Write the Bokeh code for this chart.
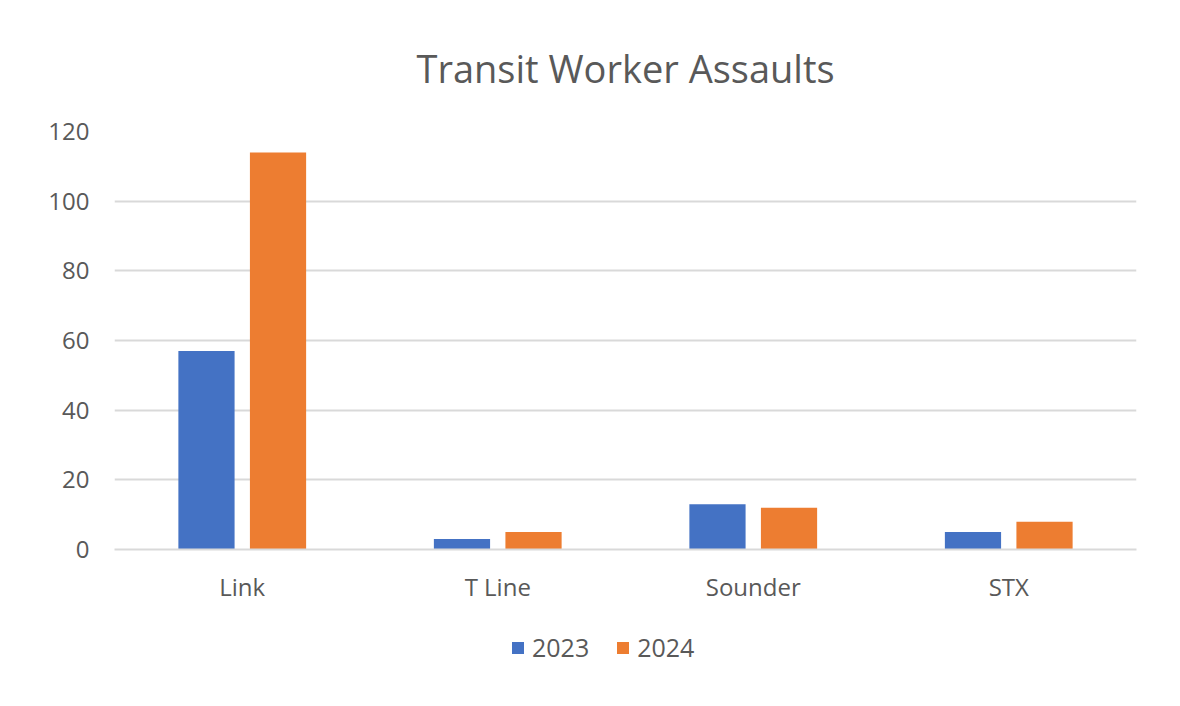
from bokeh.plotting import figure
from bokeh.layouts import column
from bokeh.models import ColumnDataSource, FactorRange, Legend, LegendItem, Range1d
from bokeh.transform import dodge
from bokeh.embed import file_html
from bokeh.resources import INLINE

categories = ["Link", "T Line", "Sounder", "STX"]
series_2023 = [57, 3, 13, 5]
series_2024 = [114, 5, 12, 8]
series_names = ["2023", "2024"]
y_ticks = [0, 20, 40, 60, 80, 100, 120]

FONT = "Open Sans"
GRAY = "#595959"
GRID = "#d9d9d9"
COLORS = ["#4472c4", "#ed7d31"]

src = ColumnDataSource(dict(cat=categories, y23=series_2023, y24=series_2024))

p = figure(x_range=FactorRange(*categories), y_range=Range1d(0, 120),
           frame_width=1022, frame_height=418, output_backend="svg", toolbar_location=None,
           title="Transit Worker Assaults",
           min_border_left=114, min_border_right=28, min_border_top=131, min_border_bottom=71)
p.x_range.range_padding = 0.0

p.vbar(x=dodge("cat", -0.14, range=p.x_range), top="y23", width=0.22, source=src,
       fill_color=COLORS[0], line_color=None)
p.vbar(x=dodge("cat", 0.14, range=p.x_range), top="y24", width=0.22, source=src,
       fill_color=COLORS[1], line_color=None)

p.title.align = "center"
p.title.text_font = FONT
p.title.text_font_style = "normal"
p.title.text_font_size = "38px"
p.title.text_color = GRAY
p.title.standoff = 76

p.yaxis.ticker = y_ticks
p.yaxis.axis_line_color = None
p.yaxis.major_tick_line_color = None
p.yaxis.minor_tick_line_color = None
p.yaxis.major_label_text_font = FONT
p.yaxis.major_label_text_font_size = "24px"
p.yaxis.major_label_text_color = GRAY
p.yaxis.major_label_standoff = 19

p.xaxis.axis_line_color = GRID
p.xaxis.axis_line_width = 2
p.xaxis.major_tick_line_color = None
p.xaxis.minor_tick_line_color = None
p.xaxis.major_label_text_font = FONT
p.xaxis.major_label_text_font_size = "24px"
p.xaxis.major_label_text_color = GRAY
p.xaxis.major_label_standoff = 14

p.xgrid.grid_line_color = None
p.ygrid.grid_line_color = GRID
p.ygrid.grid_line_width = 2
p.outline_line_color = None
p.background_fill_color = "white"
p.border_fill_color = "white"

# legend strip below the chart (hidden renderers only supply the legend swatches)
lg = figure(width=1164, height=56, x_range=FactorRange(*categories), y_range=Range1d(0, 120),
            output_backend="svg", toolbar_location=None,
            min_border_left=0, min_border_right=0, min_border_top=0, min_border_bottom=0)
lg.axis.visible = False
lg.grid.grid_line_color = None
lg.outline_line_color = None
lg.border_fill_color = "white"
items = []
for name, col, field in zip(series_names, COLORS, ["y23", "y24"]):
    r = lg.vbar(x="cat", top=field, width=0.22, source=src, fill_color=col, line_color=None)
    r.visible = False
    items.append(LegendItem(label=name, renderers=[r]))
legend = Legend(items=items, orientation="horizontal", location=(396, 12),
                label_text_font=FONT, label_text_font_size="25px", label_text_color=GRAY,
                glyph_width=15, glyph_height=15, spacing=26, label_standoff=7,
                border_line_color=None, background_fill_alpha=0, margin=0, padding=4)
lg.add_layout(legend, "center")

layout = column(p, lg, spacing=0)
open("out.html", "w").write(file_html(layout, INLINE))
